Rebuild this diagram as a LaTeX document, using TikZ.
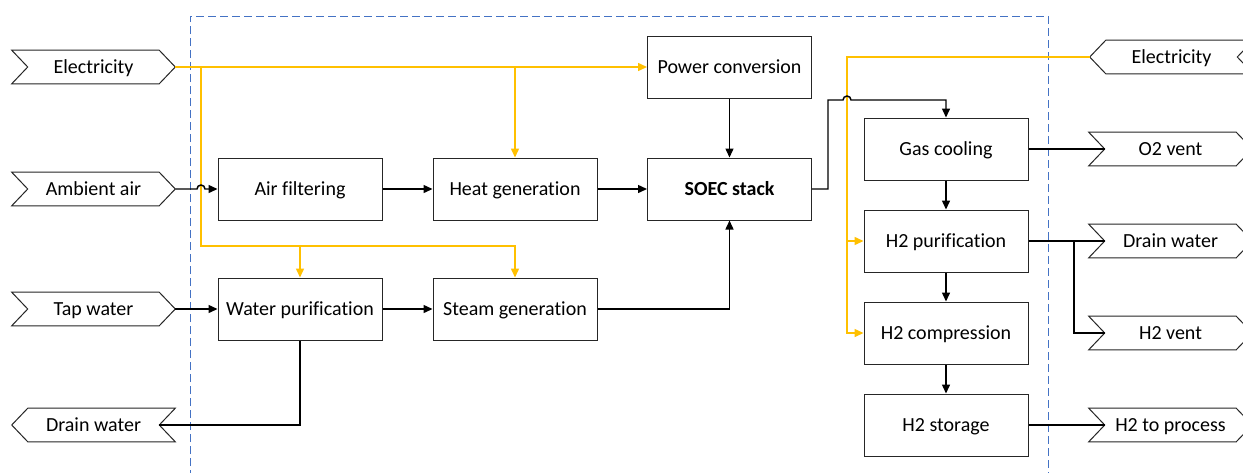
\documentclass[tikz,border=0pt]{standalone}
\usepackage{fontspec}
\setmainfont{Carlito}[Ligatures=NoCommon]
\usetikzlibrary{arrows.meta,calc}
\definecolor{ey}{HTML}{FFC000}
\definecolor{bl}{HTML}{4472C4}
\newcommand\sigright[4]{%
  \node[io] (#1) at (#2,#3) {#4};
  \draw[outl] (#1.north west) -- ($(#1.north east)+(-16,0)$) -- (#1.east) -- ($(#1.south east)+(-16,0)$) -- (#1.south west) -- ($(#1.west)+(16,0)$) -- cycle;
  \coordinate (#1-n) at ($(#1.west)+(16,0)$);}
\newcommand\sigleft[4]{%
  \node[io] (#1) at (#2,#3) {#4};
  \draw[outl] (#1.west) -- ($(#1.north west)+(16,0)$) -- (#1.north east) -- ($(#1.east)+(-16,0)$) -- (#1.south east) -- ($(#1.south west)+(16,0)$) -- cycle;
  \coordinate (#1-n) at ($(#1.east)+(-16,0)$);}
\begin{document}
\begin{tikzpicture}[x=0.75pt,y=-0.75pt,
  font=\fontsize{15}{18}\selectfont,
  box/.style={draw=black!85, line width=0.75pt, minimum width=123pt, minimum height=46.5pt, inner sep=0pt, fill=white, text height=10pt, text depth=0.25pt},
  io/.style={minimum width=122.25pt, minimum height=24.75pt, inner sep=0pt, text height=10pt, text depth=0.25pt},
  outl/.style={draw=black!85, line width=0.75pt},
  tip/.style={-{Triangle[length=6.75pt,width=6pt]}},
  conn/.style={line width=1.1pt, black, tip},
  blk/.style={line width=1.1pt, black},
  pw/.style={line width=1.1pt, ey, tip},
  pwl/.style={line width=1.1pt, ey},
  bound/.style={bl, line width=0.75pt, dash pattern=on 6pt off 3pt}]
\useasboundingbox (0,0) rectangle (1243,472);
\clip (0,0) rectangle (1243,472);
\fill[white] (0,0) rectangle (1243,472);

% system boundary
\draw[bound] (190,490) -- (190,16) -- (1048,16) -- (1048,490);

% boxes
\node[box] (pc) at (729.5,67) {Power conversion};
\node[box] (af) at (300,189) {Air filtering};
\node[box] (hg) at (515,189) {Heat generation};
\node[box] (soec) at (729.5,189) {\bfseries SOEC stack};
\node[box] (wp) at (300,309) {Water purification};
\node[box] (sg) at (515,309) {Steam generation};
\node[box] (gc) at (946,149) {Gas cooling};
\node[box] (hp) at (946,241) {H2 purification};
\node[box] (hc) at (946,333) {H2 compression};
\node[box] (hs) at (946,425) {H2 storage};

% inputs / outputs
\sigright{elL}{93.5}{67}{Electricity}
\sigright{amb}{93.5}{189}{Ambient air}
\sigright{tap}{93.5}{309}{Tap water}
\sigleft{drL}{93.5}{425}{Drain water}
\sigleft{elR}{1171.5}{57}{Electricity}
\sigright{otwo}{1170.5}{149}{O2 vent}
\sigright{drR}{1170.5}{241}{Drain water}
\sigright{hv}{1170.5}{333}{H2 vent}
\sigright{hpr}{1170.5}{425}{H2 to process}

% electricity (left)
\coordinate (ybus) at (201,246);
\draw[pw] (elL.east) -- (pc.west);
\draw[pw] (elL.east -| hg.north) -- (hg.north);
\draw[pw] (elL.east -| ybus) -- (ybus) -| (sg.north);
\draw[pw] (ybus -| wp.north) -- (wp.north);

% electricity (right)
\coordinate (rbus) at (847,57);
\draw[pw] (elR.west) -- (rbus) |- (hc.west);
\draw[pw] (rbus |- hp.west) -- (hp.west);

% process flows
\draw[conn] (amb.east) -- ($(ybus |- amb.east)+(-4,0)$) arc[start angle=180, end angle=360, radius=4] -- (af.west);
\draw[conn] (af.east) -- (hg.west);
\draw[conn] (hg.east) -- (soec.west);
\draw[conn] (pc.south) -- (soec.north);
\draw[conn] (tap.east) -- (wp.west);
\draw[conn] (wp.east) -- (sg.west);
\draw[conn] (sg.east) -| (soec.south);
\draw[blk] (wp.south) |- (drL-n);

\coordinate (k1) at (828,100);
\draw[conn] (soec.east) -| (k1) -- ($(rbus |- k1)+(-4,0)$) arc[start angle=180, end angle=360, radius=4] -- (k1 -| gc.north) -- (gc.north);
\draw[blk] (gc.east) -- (otwo-n);
\draw[conn] (gc.south) -- (hp.north);
\draw[conn] (hp.south) -- (hc.north);
\draw[conn] (hc.south) -- (hs.north);
\coordinate (br) at (1074,241);
\draw[blk] (hp.east) -- (drR-n);
\draw[blk] (br) |- (hv-n);
\draw[blk] (hs.east) -- (hpr-n);
\end{tikzpicture}
\end{document}
